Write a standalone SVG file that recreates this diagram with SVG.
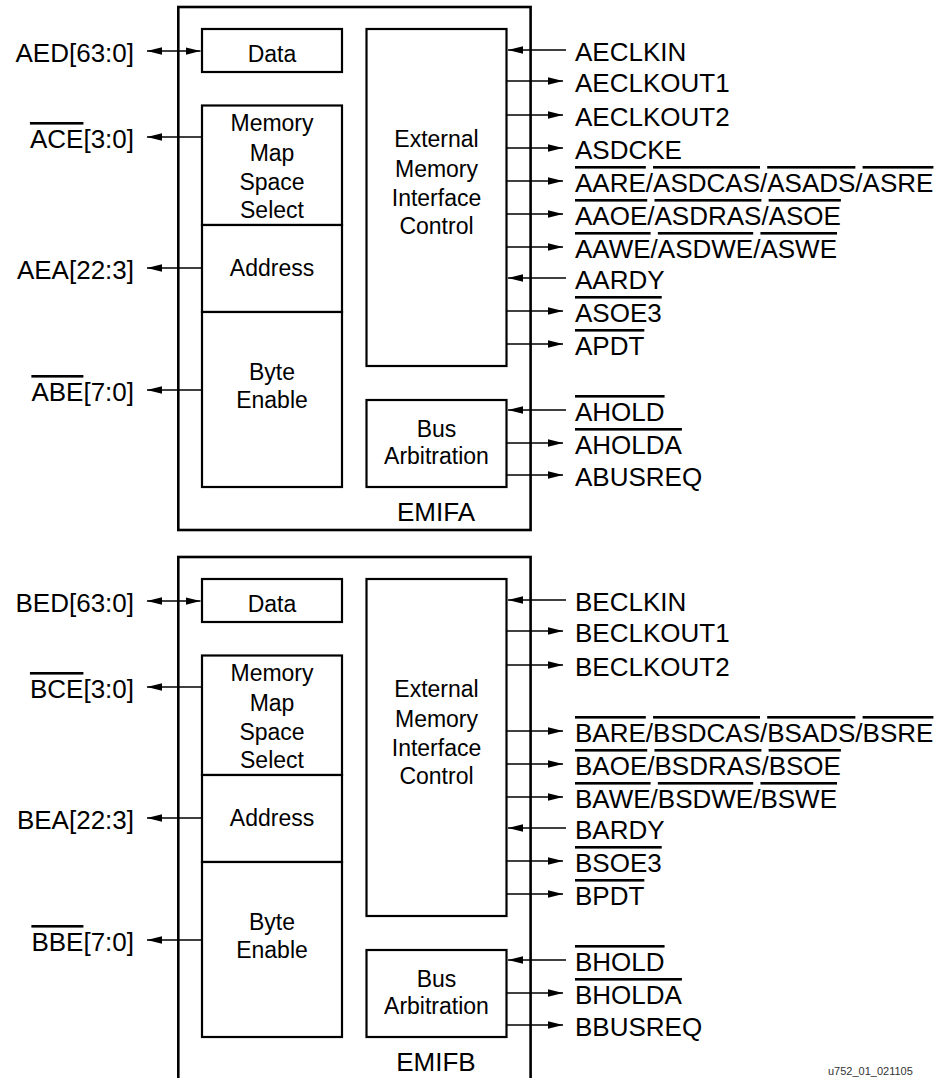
<svg xmlns="http://www.w3.org/2000/svg" width="945" height="1078" viewBox="0 0 945 1078">
<style>
text { font-family: "Liberation Sans", Arial, Helvetica, sans-serif; fill: #000; }
.lbl { font-size: 26px; }
.lft { text-anchor: end; }
.in { font-size: 23px; text-anchor: middle; }
.emif { font-size: 26px; text-anchor: middle; }
.ov { text-decoration: overline; }
.outer { fill: none; stroke: #000; stroke-width: 2.6; }
.box { fill: #fff; stroke: #000; stroke-width: 2.2; }
.con line { stroke: #000; stroke-width: 1.3; }
.out { marker-end: url(#ah); }
.bi { marker-end: url(#ah); marker-start: url(#ahs); }
.note { font-size: 11px; fill: #333; }
</style>
<defs>
<marker id="ah" markerUnits="userSpaceOnUse" markerWidth="16" markerHeight="8" refX="15" refY="3.75" orient="auto">
<path d="M0,0 L15,3.75 L0,7.5 z" fill="#000"/>
</marker>
<marker id="ahs" markerUnits="userSpaceOnUse" markerWidth="16" markerHeight="8" refX="15" refY="3.75" orient="auto-start-reverse">
<path d="M0,0 L15,3.75 L0,7.5 z" fill="#000"/>
</marker>
</defs>

<!-- EMIFA -->
<g id="emifa">
<rect class="outer" x="178.3" y="7" width="352.3" height="523"/>
<text class="emif" x="436" y="521">EMIFA</text>
</g>
<g id="emifa-data">
<rect class="box" x="202" y="29" width="140" height="43"/>
<text class="in" x="272" y="62">Data</text>
</g>
<g id="emifa-mmss">
<rect class="box" x="202" y="105.5" width="140" height="119.5"/>
<text class="in" x="272" y="131">Memory</text>
<text class="in" x="272" y="161">Map</text>
<text class="in" x="272" y="190">Space</text>
<text class="in" x="272" y="218">Select</text>
</g>
<g id="emifa-address">
<rect class="box" x="202" y="225" width="140" height="87"/>
<text class="in" x="272" y="276">Address</text>
</g>
<g id="emifa-byte">
<rect class="box" x="202" y="312" width="140" height="175"/>
<text class="in" x="272" y="380">Byte</text>
<text class="in" x="272" y="408">Enable</text>
</g>
<g id="emifa-emic">
<rect class="box" x="366.5" y="29" width="140" height="337"/>
<text class="in" x="436.5" y="147">External</text>
<text class="in" x="436.5" y="177">Memory</text>
<text class="in" x="436.5" y="206">Interface</text>
<text class="in" x="436.5" y="234">Control</text>
</g>
<g id="emifa-busarb">
<rect class="box" x="366.5" y="400" width="140" height="87"/>
<text class="in" x="436.5" y="437">Bus</text>
<text class="in" x="436.5" y="464">Arbitration</text>
</g>
<g id="emifa-labels">
<text class="lbl lft" x="134" y="62">AED[63:0]</text>
<text class="lbl lft" x="134" y="148"><tspan class="ov">ACE</tspan>[3:0]</text>
<text class="lbl lft" x="134" y="279">AEA[22:3]</text>
<text class="lbl lft" x="134" y="401"><tspan class="ov">ABE</tspan>[7:0]</text>
<text class="lbl" x="575" y="61">AECLKIN</text>
<text class="lbl" x="575" y="92">AECLKOUT1</text>
<text class="lbl" x="575" y="126">AECLKOUT2</text>
<text class="lbl" x="575" y="159">ASDCKE</text>
<text class="lbl" x="575" y="192"><tspan class="ov">AARE</tspan>/<tspan class="ov">ASDCAS</tspan>/<tspan class="ov">ASADS</tspan>/<tspan class="ov">ASRE</tspan></text>
<text class="lbl" x="575" y="225"><tspan class="ov">AAOE</tspan>/<tspan class="ov">ASDRAS</tspan>/<tspan class="ov">ASOE</tspan></text>
<text class="lbl" x="575" y="258"><tspan class="ov">AAWE</tspan>/<tspan class="ov">ASDWE</tspan>/<tspan class="ov">ASWE</tspan></text>
<text class="lbl" x="575" y="289">AARDY</text>
<text class="lbl" x="575" y="322"><tspan class="ov">ASOE3</tspan></text>
<text class="lbl" x="575" y="355"><tspan class="ov">APDT</tspan></text>
<text class="lbl" x="575" y="421"><tspan class="ov">AHOLD</tspan></text>
<text class="lbl" x="575" y="454"><tspan class="ov">AHOLDA</tspan></text>
<text class="lbl" x="575" y="486">ABUSREQ</text>
</g>

<!-- EMIFB -->
<g id="emifb">
<rect class="outer" x="178.3" y="557" width="352.3" height="523"/>
<text class="emif" x="436" y="1071">EMIFB</text>
</g>
<g id="emifb-data">
<rect class="box" x="202" y="579" width="140" height="43"/>
<text class="in" x="272" y="612">Data</text>
</g>
<g id="emifb-mmss">
<rect class="box" x="202" y="655.5" width="140" height="119.5"/>
<text class="in" x="272" y="681">Memory</text>
<text class="in" x="272" y="711">Map</text>
<text class="in" x="272" y="740">Space</text>
<text class="in" x="272" y="768">Select</text>
</g>
<g id="emifb-address">
<rect class="box" x="202" y="775" width="140" height="87"/>
<text class="in" x="272" y="826">Address</text>
</g>
<g id="emifb-byte">
<rect class="box" x="202" y="862" width="140" height="175"/>
<text class="in" x="272" y="930">Byte</text>
<text class="in" x="272" y="958">Enable</text>
</g>
<g id="emifb-emic">
<rect class="box" x="366.5" y="579" width="140" height="337"/>
<text class="in" x="436.5" y="697">External</text>
<text class="in" x="436.5" y="727">Memory</text>
<text class="in" x="436.5" y="756">Interface</text>
<text class="in" x="436.5" y="784">Control</text>
</g>
<g id="emifb-busarb">
<rect class="box" x="366.5" y="950" width="140" height="87"/>
<text class="in" x="436.5" y="987">Bus</text>
<text class="in" x="436.5" y="1014">Arbitration</text>
</g>
<g id="emifb-labels">
<text class="lbl lft" x="134" y="612">BED[63:0]</text>
<text class="lbl lft" x="134" y="698"><tspan class="ov">BCE</tspan>[3:0]</text>
<text class="lbl lft" x="134" y="829">BEA[22:3]</text>
<text class="lbl lft" x="134" y="951"><tspan class="ov">BBE</tspan>[7:0]</text>
<text class="lbl" x="575" y="611">BECLKIN</text>
<text class="lbl" x="575" y="642">BECLKOUT1</text>
<text class="lbl" x="575" y="676">BECLKOUT2</text>
<text class="lbl" x="575" y="742"><tspan class="ov">BARE</tspan>/<tspan class="ov">BSDCAS</tspan>/<tspan class="ov">BSADS</tspan>/<tspan class="ov">BSRE</tspan></text>
<text class="lbl" x="575" y="775"><tspan class="ov">BAOE</tspan>/<tspan class="ov">BSDRAS</tspan>/<tspan class="ov">BSOE</tspan></text>
<text class="lbl" x="575" y="808"><tspan class="ov">BAWE</tspan>/<tspan class="ov">BSDWE</tspan>/<tspan class="ov">BSWE</tspan></text>
<text class="lbl" x="575" y="839">BARDY</text>
<text class="lbl" x="575" y="872"><tspan class="ov">BSOE3</tspan></text>
<text class="lbl" x="575" y="905"><tspan class="ov">BPDT</tspan></text>
<text class="lbl" x="575" y="971"><tspan class="ov">BHOLD</tspan></text>
<text class="lbl" x="575" y="1004"><tspan class="ov">BHOLDA</tspan></text>
<text class="lbl" x="575" y="1036">BBUSREQ</text>
</g>

<g id="connectors" class="con">
<!-- EMIFA left -->
<line class="bi" x1="147" y1="51" x2="200.5" y2="51"/>
<line class="out" x1="202" y1="137" x2="147" y2="137"/>
<line class="out" x1="202" y1="268" x2="147" y2="268"/>
<line class="out" x1="202" y1="390" x2="147" y2="390"/>
<!-- EMIFA right -->
<line class="out" x1="566" y1="50" x2="508" y2="50"/>
<line class="out" x1="507" y1="81" x2="563" y2="81"/>
<line class="out" x1="507" y1="115" x2="563" y2="115"/>
<line class="out" x1="507" y1="148" x2="563" y2="148"/>
<line class="out" x1="507" y1="181" x2="563" y2="181"/>
<line class="out" x1="507" y1="214" x2="563" y2="214"/>
<line class="out" x1="507" y1="247" x2="563" y2="247"/>
<line class="out" x1="566" y1="278" x2="508" y2="278"/>
<line class="out" x1="507" y1="311" x2="563" y2="311"/>
<line class="out" x1="507" y1="344" x2="563" y2="344"/>
<line class="out" x1="566" y1="410" x2="508" y2="410"/>
<line class="out" x1="507" y1="443" x2="563" y2="443"/>
<line class="out" x1="507" y1="475" x2="563" y2="475"/>
<!-- EMIFB left -->
<line class="bi" x1="147" y1="601" x2="200.5" y2="601"/>
<line class="out" x1="202" y1="687" x2="147" y2="687"/>
<line class="out" x1="202" y1="818" x2="147" y2="818"/>
<line class="out" x1="202" y1="940" x2="147" y2="940"/>
<!-- EMIFB right -->
<line class="out" x1="566" y1="600" x2="508" y2="600"/>
<line class="out" x1="507" y1="631" x2="563" y2="631"/>
<line class="out" x1="507" y1="665" x2="563" y2="665"/>
<line class="out" x1="507" y1="731" x2="563" y2="731"/>
<line class="out" x1="507" y1="764" x2="563" y2="764"/>
<line class="out" x1="507" y1="797" x2="563" y2="797"/>
<line class="out" x1="566" y1="828" x2="508" y2="828"/>
<line class="out" x1="507" y1="861" x2="563" y2="861"/>
<line class="out" x1="507" y1="894" x2="563" y2="894"/>
<line class="out" x1="566" y1="960" x2="508" y2="960"/>
<line class="out" x1="507" y1="993" x2="563" y2="993"/>
<line class="out" x1="507" y1="1025" x2="563" y2="1025"/>
</g>

<text class="note" x="828" y="1075">u752_01_021105</text>
</svg>
